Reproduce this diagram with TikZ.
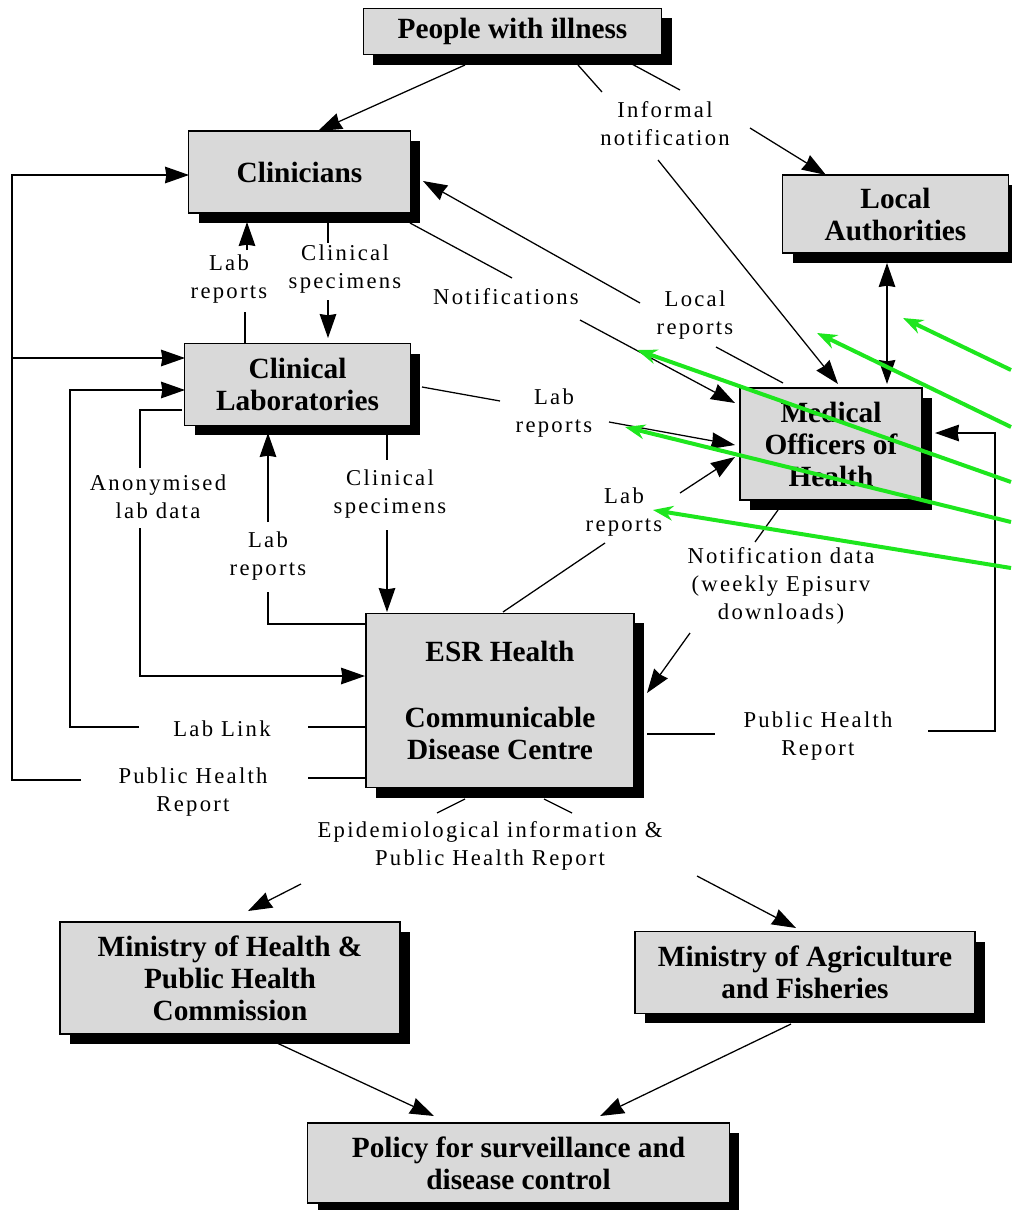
\documentclass[tikz,border=0pt]{standalone}
\usepackage{fontspec}
\setmainfont{Liberation Serif}
\newfontfamily\lblfont{Liberation Serif}[LetterSpace=10]
\usetikzlibrary{arrows.meta,shadows}
\definecolor{annot}{RGB}{30,230,30}
\definecolor{boxfill}{gray}{0.85}
\begin{document}
\begin{tikzpicture}[x=0.75pt,y=-0.75pt,
  box/.style={draw=black, line width=0.9pt, fill=boxfill, align=center, inner sep=0pt,
    font=\bfseries\fontsize{22}{24}\selectfont,
    drop shadow={shadow xshift=7.5pt, shadow yshift=-7.5pt, fill=black, opacity=1}},
  lbl/.style={font=\lblfont\fontsize{17}{21}\selectfont, align=center, inner sep=1pt},
  ln/.style={line width=0.95pt},
  tip/.tip={Stealth[length=18pt,width=12.5pt,inset=1pt]},
  arr/.style={ln, -tip},
  arrb/.style={ln, tip-tip},
  garr/.style={draw=annot, line width=3pt, -{Stealth[length=15pt,width=11pt]}}
]
\useasboundingbox (0,0) rectangle (1011,1210);

% boxes
\node[box, minimum width=224pt, minimum height=35pt] (people) at (512.5,31.5) {People with illness};
\node[box, minimum width=166pt, minimum height=61.5pt] (clin) at (299.5,172) {Clinicians};
\node[box, minimum width=169pt, minimum height=58.5pt] (la) at (895.5,214) {Local\\Authorities};
\node[box, minimum width=136.5pt, minimum height=84pt] (moh) at (831,444) {Medical\\Officers of\\Health};
\node[box, minimum width=169pt, minimum height=61pt] (lab) at (297.5,384.5) {Clinical\\Laboratories};
\node[box, minimum width=201pt, minimum height=131pt] (esr) at (500,700.5) {ESR Health\\[26pt]Communicable\\Disease Centre};
\node[box, minimum width=255pt, minimum height=84pt] (mhp) at (230,978) {Ministry of Health \&\\Public Health\\Commission};
\node[box, minimum width=255pt, minimum height=61pt] (maf) at (805,972.5) {Ministry of Agriculture\\and Fisheries};
\node[box, minimum width=316pt, minimum height=60pt] (pol) at (518.5,1163) {Policy for surveillance and\\disease control};

% labels
\node[lbl] (linf) at (665,124) {Informal\\notification};
\node[lbl] (llr1) at (229,279) {Lab\\reports};
\node[lbl] (lcs1) at (345,269) {Clinical\\specimens};
\node[lbl] (lnot) at (506,297) {Notifications};
\node[lbl] (llocal) at (695,315) {Local\\reports};
\node[lbl] (llr2) at (554,413) {Lab\\reports};
\node[lbl] (llr3) at (624,512) {Lab\\reports};
\node[lbl] (lnd) at (781,586) {Notification data\\(weekly Episurv\\downloads)};
\node[lbl] (lanon) at (158,497) {Anonymised\\lab data};
\node[lbl] (llr4) at (268,556) {Lab\\reports};
\node[lbl] (lcs2) at (390,494) {Clinical\\specimens};
\node[lbl] (llink) at (222,729) {Lab Link};
\node[lbl] (lphr1) at (193,792) {Public Health\\Report};
\node[lbl] (lphr2) at (818,736) {Public Health\\Report};
\node[lbl] (lepi) at (490,846) {Epidemiological information \&\\Public Health Report};

% connectors
\draw[arr] (465,65) -- (318,131);
\draw[ln] (630,63) -- (680,90);
\draw[arr] (750,128) -- (826,175);
\draw[ln] (578,65) -- (602,92);
\draw[arr] (658,160) -- (838,384);

\draw[ln] (245,344) -- (245,312);
\draw[arr] (247,250) -- (247,222);
\draw[ln] (328,222) -- (328,243);
\draw[arr] (328,300) -- (328,338);

\draw[ln] (410,223) -- (512,278);
\draw[arr] (580,320) -- (735,403);
\draw[ln] (783,383) -- (716,347);
\draw[arr] (640,303) -- (423,181);

\draw[ln] (422,387) -- (500,401);
\draw[arr] (609,422) -- (735,445);
\draw[ln] (503,612) -- (605,543);
\draw[arr] (680,493) -- (735,457);

\draw[ln] (778,510) -- (755,542);
\draw[arr] (690,633) -- (647,693);
\draw[ln] (647,734) -- (715,734);
\draw[arr] (928,731) -- (995,731) -- (995,433) -- (935,433);

\draw[arrb] (887,263) -- (887,384);

\draw[ln] (387,433) -- (387,460);
\draw[arr] (387,530) -- (387,612);
\draw[ln] (365,624) -- (268,624) -- (268,592);
\draw[arr] (268,522) -- (268,433);

\draw[ln] (182,410) -- (140,410) -- (140,468);
\draw[arr] (140,528) -- (140,676) -- (365,676);

\draw[ln] (365,727) -- (308,727);
\draw[arr] (139,727) -- (70,727) -- (70,390) -- (185,390);

\draw[ln] (365,778) -- (308,778);
\draw[arr] (81,780) -- (12,780) -- (12,175) -- (189,175);
\draw[arr] (12,358) -- (185,358);

\draw[ln] (465,799) -- (437,813);
\draw[ln] (544,799) -- (572,813);
\draw[arr] (301,884) -- (248,911);
\draw[arr] (697,876) -- (796,928);

\draw[arr] (277,1043) -- (434,1116);
\draw[arr] (791,1024) -- (600,1116);

% green annotation arrows
\coordinate (g1) at (1011,370);
\coordinate (g2) at (1011,427);
\coordinate (g3) at (1011,482);
\coordinate (g4) at (1011,522);
\coordinate (g5) at (1011,568);
\draw[garr] (g1) -- (903,318);
\draw[garr] (g2) -- (817,333);
\draw[garr] (g3) -- (637,350);
\draw[garr] (g4) -- (625,427);
\draw[garr] (g5) -- (653,510);
\end{tikzpicture}
\end{document}
